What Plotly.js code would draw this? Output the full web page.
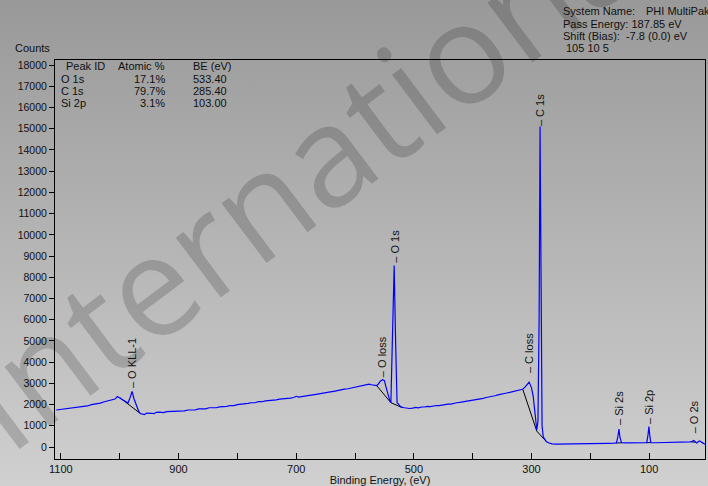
<!DOCTYPE html>
<html><head><meta charset="utf-8">
<script src="https://cdn.plot.ly/plotly-3.0.1.min.js"></script>
<style>
html,body{margin:0;padding:0;}
body{width:708px;height:486px;background:linear-gradient(to bottom,#999999 0%,#d0d0d0 100%);overflow:hidden;}
#chart{width:708px;height:486px;}
</style></head><body><div id="chart"></div>
<script>
// Survey spectrum (binding energy in eV, counts)
const bindingEnergy = [1108,1100,1092,1085,1078,1070,1062,1055,1048,1040,1033,1026,1020,1014,1008,1004,1000,995,990,986,982,979,976,972,968,965,962,958,954,950,946,942,938,932,926,920,914,908,902,896,890,884,878,872,866,860,854,848,842,836,830,824,818,812,806,800,794,788,782,776,770,764,758,752,746,740,734,728,722,716,710,704,700,696,690,684,678,672,666,660,654,648,642,636,630,624,618,612,606,600,594,588,582,576,572,568,563,560,557,553,550,547,544,541,539,536,533.4,531,528.5,524,521,516,512,507,502,497,492,487,482,477,472,467,462,457,452,447,442,437,432,427,422,417,412,407,402,397,392,387,382,377,372,367,362,357,352,347,342,337,332,327,322,318,315,311,308,304,300,297,294,291,289,287,285.4,284,282,280,277,274.5,270,265,258,250,240,230,220,210,200,190,180,170,160,155.5,153,151.3,149.5,147,140,130,120,110,104,102,100.3,98.5,97,90,80,70,60,50,40,30,27,24,21,19,16,14,11,8,5];
const counts = [1745,1770,1800,1810,1855,1865,1910,1935,1995,2025,2070,2135,2170,2190,2260,2380,2320,2220,2130,2070,2350,2620,2300,1960,1700,1580,1560,1530,1600,1610,1590,1570,1630,1640,1625,1670,1680,1665,1710,1720,1700,1745,1760,1745,1800,1805,1795,1850,1855,1850,1895,1900,1915,1955,1950,1995,2005,2040,2055,2085,2085,2135,2135,2175,2185,2205,2225,2255,2265,2295,2305,2335,2390,2350,2385,2405,2435,2455,2485,2505,2545,2565,2595,2625,2665,2685,2725,2745,2785,2815,2855,2875,2915,2965,2935,2930,2895,2980,3100,3170,3130,2800,2450,2200,2090,5200,8550,5000,2090,1950,1880,1850,1820,1815,1835,1865,1845,1885,1885,1915,1900,1945,1955,1955,1985,2015,2025,2025,2065,2085,2105,2125,2155,2175,2195,2235,2245,2275,2295,2335,2355,2395,2415,2455,2475,2525,2545,2575,2605,2645,2695,2690,2720,2820,2950,3060,2800,2380,1600,800,1200,6000,15100,8000,1000,480,330,250,190,150,140,140,145,150,145,155,160,160,170,175,180,190,500,840,450,200,195,190,195,200,205,550,960,450,210,200,205,210,215,220,225,240,270,310,230,190,260,290,230,160,130];
// Fitted background segments (null separates segments)
const bgBE = [1000,966,null,563,539,521,null,314.5,291,274.5,null,155.6,147,null,104,97.5,null,28.4,20];
const bgCounts = [2330,1600,null,2890,2090,1870,null,2700,750,250,null,190,200,null,205,210,null,240,230];
// Peak labels
const peakNames = ['O KLL-1','O loss','O 1s','C loss','C 1s','Si 2s','Si 2p','O 2s'];
const peakBE = [979,553,533.4,304,285.4,151.3,100.3,24];
const peakLabelCounts = [2780,3300,8670,3490,15130,1040,1080,660];
// Quantification table
const tableHeader = ['Peak ID','Atomic %','BE (eV)'];
const tableIds = ['O 1s','C 1s','Si 2p'];
const tableAtomic = ['17.1%','79.7%','3.1%'];
const tableBE = ['533.40','285.40','103.00'];
// Axis ticks
const xTickVals = [1100,1000,900,800,700,600,500,400,300,200,100];
const xTickText = ['1100','','900','','700','','500','','300','','100'];
// Info text
const infoLines = ['System Name:','Pass Energy: 187.85 eV','Shift (Bias):\u00a0\u00a0-7.8 (0.0) eV','105 10 5'];
const systemName = 'PHI MultiPak';

const FONT = 'Liberation Sans, Arial, Helvetica, sans-serif';
const W = 708, H = 486, L = 55, R = 3, T = 60, B = 27;
const pw = W - L - R, ph = H - T - B;
const px = x => (x - L) / pw;
const py = y => (H - B - y) / ph;

const traces = [
  {x: bgBE, y: bgCounts, type: 'scatter', mode: 'lines', connectgaps: false,
   line: {color: '#000000', width: 1}, hoverinfo: 'skip'},
  {x: bindingEnergy, y: counts, type: 'scatter', mode: 'lines',
   line: {color: '#0000ff', width: 1.2}, hoverinfo: 'skip'}
];

const ann = [];
// watermark
ann.push({text: 'International', xref: 'paper', yref: 'paper', x: px(312), y: py(160),
  xanchor: 'center', yanchor: 'middle', showarrow: false, textangle: -37,
  font: {family: 'Open Sans, sans-serif', size: 140, color: 'rgba(0,0,0,0.17)'}});
// peak labels
peakNames.forEach((n, i) => ann.push({text: '\u2013 ' + n, x: peakBE[i], y: peakLabelCounts[i],
  xref: 'x', yref: 'y', xanchor: 'center', yanchor: 'bottom', showarrow: false, textangle: -90,
  borderpad: 0, borderwidth: 0, font: {family: FONT, size: 11, color: '#111'}}));
// table
const rowY = [66, 79.3, 91, 102.7];
const tfont = {family: FONT, size: 11, color: '#111'};
ann.push({text: tableHeader[0], xref: 'paper', yref: 'paper', x: px(65), y: py(rowY[0]), xanchor: 'left', yanchor: 'middle', showarrow: false, font: tfont, borderpad: 0});
ann.push({text: tableHeader[1], xref: 'paper', yref: 'paper', x: px(166), y: py(rowY[0]), xanchor: 'right', yanchor: 'middle', showarrow: false, font: tfont, borderpad: 0});
ann.push({text: tableHeader[2], xref: 'paper', yref: 'paper', x: px(192), y: py(rowY[0]), xanchor: 'left', yanchor: 'middle', showarrow: false, font: tfont, borderpad: 0});
tableIds.forEach((id, i) => {
  ann.push({text: id, xref: 'paper', yref: 'paper', x: px(60), y: py(rowY[i+1]), xanchor: 'left', yanchor: 'middle', showarrow: false, font: tfont, borderpad: 0});
  ann.push({text: tableAtomic[i], xref: 'paper', yref: 'paper', x: px(166), y: py(rowY[i+1]), xanchor: 'right', yanchor: 'middle', showarrow: false, font: tfont, borderpad: 0});
  ann.push({text: tableBE[i], xref: 'paper', yref: 'paper', x: px(192), y: py(rowY[i+1]), xanchor: 'left', yanchor: 'middle', showarrow: false, font: tfont, borderpad: 0});
});
// info lines
const infoY = [11, 23.5, 35.5, 47.5];
const infoX = [561.5, 561.5, 561.5, 565];
infoLines.forEach((t, i) => ann.push({text: t, xref: 'paper', yref: 'paper', x: px(infoX[i]), y: py(infoY[i]),
  xanchor: 'left', yanchor: 'middle', showarrow: false, font: tfont, borderpad: 0}));
ann.push({text: systemName, xref: 'paper', yref: 'paper', x: px(645), y: py(infoY[0]),
  xanchor: 'left', yanchor: 'middle', showarrow: false, font: tfont, borderpad: 0});
// Counts
ann.push({text: 'Counts', xref: 'paper', yref: 'paper', x: px(14), y: py(47.5),
  xanchor: 'left', yanchor: 'middle', showarrow: false, font: tfont, borderpad: 0});

const layout = {
  width: W, height: H,
  margin: {l: L, r: R, t: T, b: B, pad: 0},
  paper_bgcolor: 'rgba(0,0,0,0)', plot_bgcolor: 'rgba(0,0,0,0)',
  showlegend: false,
  font: {family: FONT, size: 10, color: '#111'},
  xaxis: {range: [1110, 5], tickvals: xTickVals, ticktext: xTickText,
    ticks: 'inside', ticklen: 6, tickcolor: '#000', tickwidth: 1,
    showline: true, linecolor: '#000', linewidth: 1, mirror: true,
    showgrid: false, zeroline: false,
    tickfont: {family: FONT, size: 11, color: '#111'},
    title: {text: 'Binding Energy, (eV)', font: {family: FONT, size: 11, color: '#111'}, standoff: 2}},
  yaxis: {range: [-565, 18240], tick0: 0, dtick: 1000, tickformat: 'd',
    ticks: 'outside', ticklen: 5, tickcolor: '#000', tickwidth: 1,
    showline: true, linecolor: '#000', linewidth: 1, mirror: true,
    showgrid: false, zeroline: false,
    tickfont: {family: FONT, size: 10.5, color: '#111'}},
  annotations: ann
};
Plotly.newPlot('chart', traces, layout, {displayModeBar: false, staticPlot: true});
</script></body></html>
